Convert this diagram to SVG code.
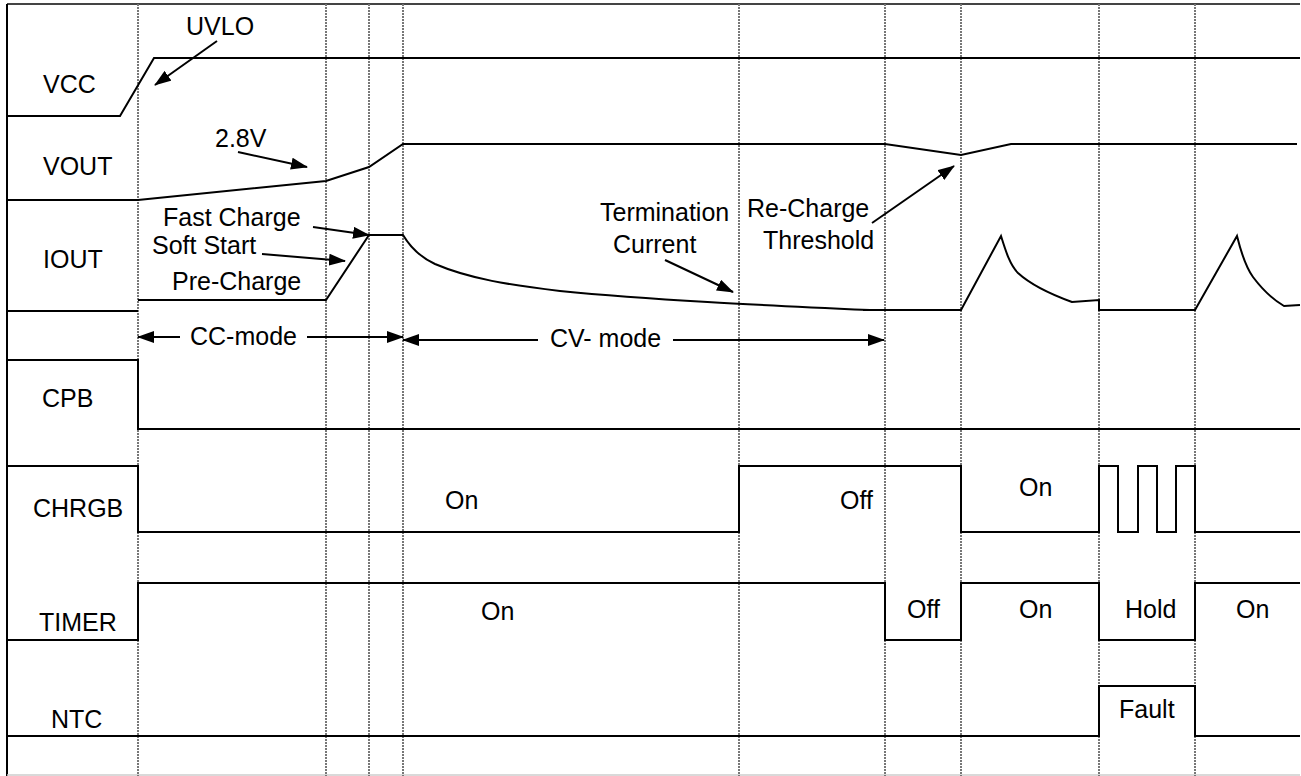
<svg xmlns="http://www.w3.org/2000/svg" width="1301" height="776" viewBox="0 0 1301 776">
<style>
text{font-family:"Liberation Sans",Arial,sans-serif;font-size:25px;fill:#000}
.w{fill:none;stroke:#000;stroke-width:2;stroke-linejoin:miter}
.g{fill:none;stroke:#777;stroke-width:2;stroke-dasharray:2 1}
.a{fill:none;stroke:#000;stroke-width:2;marker-end:url(#ah)}
</style>
<defs>
<marker id="ah" markerUnits="userSpaceOnUse" markerWidth="17" markerHeight="12" refX="16" refY="6" orient="auto"><path d="M0,0 L17,6 L0,12 z" fill="#000"/></marker>
</defs>
<rect width="1301" height="776" fill="#fff"/>
<g id="grid">
<line x1="7" y1="4" x2="1300" y2="4" stroke="#444" stroke-width="2"/>
<line x1="7" y1="4" x2="7" y2="776" stroke="#000" stroke-width="2"/>
<line x1="7" y1="775" x2="1300" y2="775" stroke="#ccc" stroke-width="1.5"/>
<line class="g" x1="138" y1="4" x2="138" y2="776"/>
<line class="g" x1="326" y1="4" x2="326" y2="776"/>
<line class="g" x1="369" y1="4" x2="369" y2="776"/>
<line class="g" x1="403" y1="4" x2="403" y2="776"/>
<line class="g" x1="739" y1="4" x2="739" y2="776"/>
<line class="g" x1="885" y1="4" x2="885" y2="776"/>
<line class="g" x1="961" y1="4" x2="961" y2="776"/>
<line class="g" x1="1099" y1="4" x2="1099" y2="776"/>
<line class="g" x1="1195" y1="4" x2="1195" y2="776"/>
</g>
<g id="vcc">
<text x="43" y="93">VCC</text>
<path class="w" d="M7,116 H120 L154,58 H1300"/>
<text x="186" y="35">UVLO</text>
</g>
<g id="vout">
<text x="43" y="175">VOUT</text>
<path class="w" d="M7,200 H138 L326,181 L369,167 L403,144 H885 L961,155 L1011,144 H1297"/>
<text x="215" y="147">2.8V</text>
<text x="747" y="217">Re-Charge</text>
<text x="763" y="249">Threshold</text>
</g>
<g id="iout">
<text x="43" y="268">IOUT</text>
<path class="w" d="M7,311 H138"/>
<path class="w" d="M138,300 H326 L369,235 H403 C412,250 422,258 435,264 C470,279 510,285 560,291 C650,300 760,305 870,310"/>
<path class="w" d="M863,310 H961 L1001,236 C1006,252 1010,265 1018,273 C1030,284 1050,294 1072,302 L1099,300 V310 H1195 L1237,236 C1241,252 1245,266 1253,277 C1262,289 1272,299 1284,306 L1300,305"/>
<text x="163" y="226">Fast Charge</text>
<text x="152" y="254">Soft Start</text>
<text x="172" y="290">Pre-Charge</text>
<text x="600" y="221">Termination</text>
<text x="613" y="253">Current</text>
</g>
<g id="modes">
<text x="190" y="345">CC-mode</text>
<text x="550" y="347">CV- mode</text>
</g>
<g id="cpb">
<text x="42" y="407">CPB</text>
<path class="w" d="M7,360 H138 V429 H1300"/>
</g>
<g id="chrgb">
<text x="33" y="517">CHRGB</text>
<path class="w" d="M7,466 H138 V532 H739 V466 H961 V532 H1099 V466 H1118 V532 H1138 V466 H1157 V532 H1176 V466 H1195 V532 H1300"/>
<text x="445" y="509">On</text>
<text x="840" y="509">Off</text>
<text x="1019" y="496">On</text>
</g>
<g id="timer">
<text x="39" y="631">TIMER</text>
<path class="w" d="M7,640 H138 V583 H885 V640 H961 V583 H1099 V640 H1195 V583 H1300"/>
<text x="481" y="620">On</text>
<text x="907" y="618">Off</text>
<text x="1019" y="618">On</text>
<text x="1125" y="618">Hold</text>
<text x="1236" y="618">On</text>
</g>
<g id="ntc">
<text x="51" y="728">NTC</text>
<path class="w" d="M7,736 H1099 V686 H1195 V736 H1300"/>
<text x="1119" y="718">Fault</text>
</g>
<g id="connectors">
<line class="a" x1="217" y1="41" x2="155" y2="85"/>
<line class="a" x1="238" y1="152" x2="307" y2="167"/>
<line class="a" x1="313" y1="227" x2="369" y2="235"/>
<line class="a" x1="262" y1="254" x2="345" y2="261"/>
<line class="a" x1="665" y1="260" x2="733" y2="292"/>
<line class="a" x1="872" y1="223" x2="954" y2="166"/>
<line class="a" x1="180" y1="337" x2="138" y2="337"/>
<line class="a" x1="307" y1="337" x2="403" y2="337"/>
<line class="a" x1="538" y1="340" x2="403" y2="340"/>
<line class="a" x1="673" y1="340" x2="884" y2="340"/>
</g>
</svg>
